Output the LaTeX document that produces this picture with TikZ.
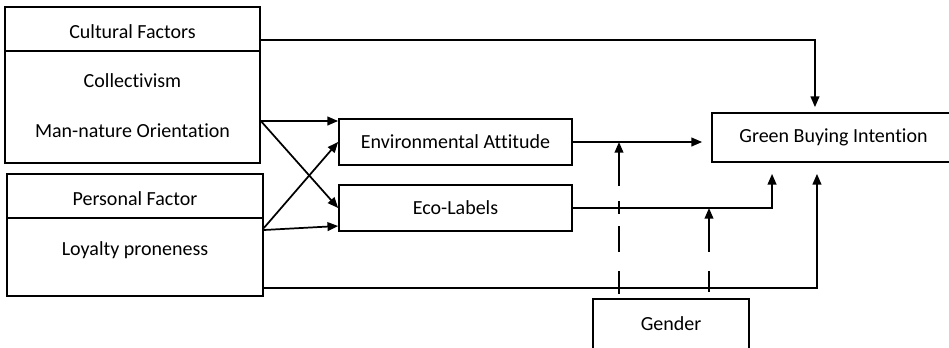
\documentclass[tikz,border=0pt]{standalone}
\usepackage{fontspec}
\setmainfont{Carlito}[Ligatures=NoCommon]
\usetikzlibrary{arrows.meta}

\begin{document}
\begin{tikzpicture}[x=0.75pt, y=-0.75pt,
    >={Triangle[length=8pt,width=6.5pt]},
    every node/.style={font=\fontsize{15}{18}\selectfont},
    box/.style={draw, line width=1.3pt, inner sep=0pt},
    link/.style={line width=1.3pt}]

    \useasboundingbox (0,0) rectangle (949,347);
    \clip (0,0) rectangle (949,347);

    % Cultural factors block
    \node[box, minimum width=191.25pt, minimum height=33pt] (cult) at (132.5,29) {};
    \node (culttxt) at (132.5,31.5) {Cultural Factors};
    \node[box, minimum width=191.25pt, minimum height=84pt] (cultbody) at (132.5,107) {};
    \node (coll) at (132.5,81) {Collectivism};
    \node (mno) at (132.5,131) {Man-nature Orientation};

    % Personal factor block
    \node[box, minimum width=192pt, minimum height=33pt] (pers) at (135,196) {};
    \node (perstxt) at (135,199) {Personal Factor};
    \node[box, minimum width=192pt, minimum height=58.5pt] (persbody) at (135,257) {};
    \node (loyal) at (135,250) {Loyalty proneness};

    % Mediators, outcome and moderator
    \node[box, minimum width=174.75pt, minimum height=34.5pt] (ea) at (455.5,142) {Environmental Attitude};
    \node[box, minimum width=174.75pt, minimum height=34.5pt] (el) at (455.5,208) {Eco-Labels};
    \node[box, minimum width=182.25pt, minimum height=36.75pt] (gbi) at (833.5,137.5) {Green Buying Intention};
    \node[box, minimum width=117pt, minimum height=37.5pt] (gender) at (671,324) {Gender};

    % Factors to mediators
    \draw[link,->] ([yshift=-10.5pt]cultbody.east) -- ([yshift=15.75pt]ea.west);
    \draw[link,->] ([yshift=-10.5pt]cultbody.east) -- (el.west);
    \draw[link,->] ([yshift=21.75pt]persbody.east) -- (ea.west);
    \draw[link,->] ([yshift=20.25pt]persbody.east) -- ([yshift=-13.5pt]el.west);

    % Direct paths to green buying intention
    \draw[link,->] ([yshift=-8.25pt]cult.east) -| ([xshift=-13.9pt,yshift=3.75pt]gbi.north);
    \draw[link,->] ([yshift=-23.25pt]persbody.east) -| ([xshift=-12.4pt,yshift=-8.25pt]gbi.south);
    \draw[link,->, shorten >=6.75pt] (ea.east) -- (ea.east -| gbi.west);
    \draw[link,->] (el.east) -| ([xshift=-46.1pt,yshift=-8.25pt]gbi.south);

    % Moderating effect of gender
    \draw[link,<-, shorten >=3pt, dash pattern=on 25.5pt off 11.25pt on 9.75pt off 9pt on 19.5pt off 14.25pt on 20.25pt off 10pt]
        ([xshift=-39pt]gender.north |- ea.east) -- ([xshift=-39pt]gender.north);
    \draw[link,<-, shorten >=4.5pt, dash pattern=on 25.5pt off 14.25pt on 20pt off 10pt]
        ([xshift=28.5pt]gender.north |- el.east) -- ([xshift=28.5pt]gender.north);

\end{tikzpicture}
\end{document}
